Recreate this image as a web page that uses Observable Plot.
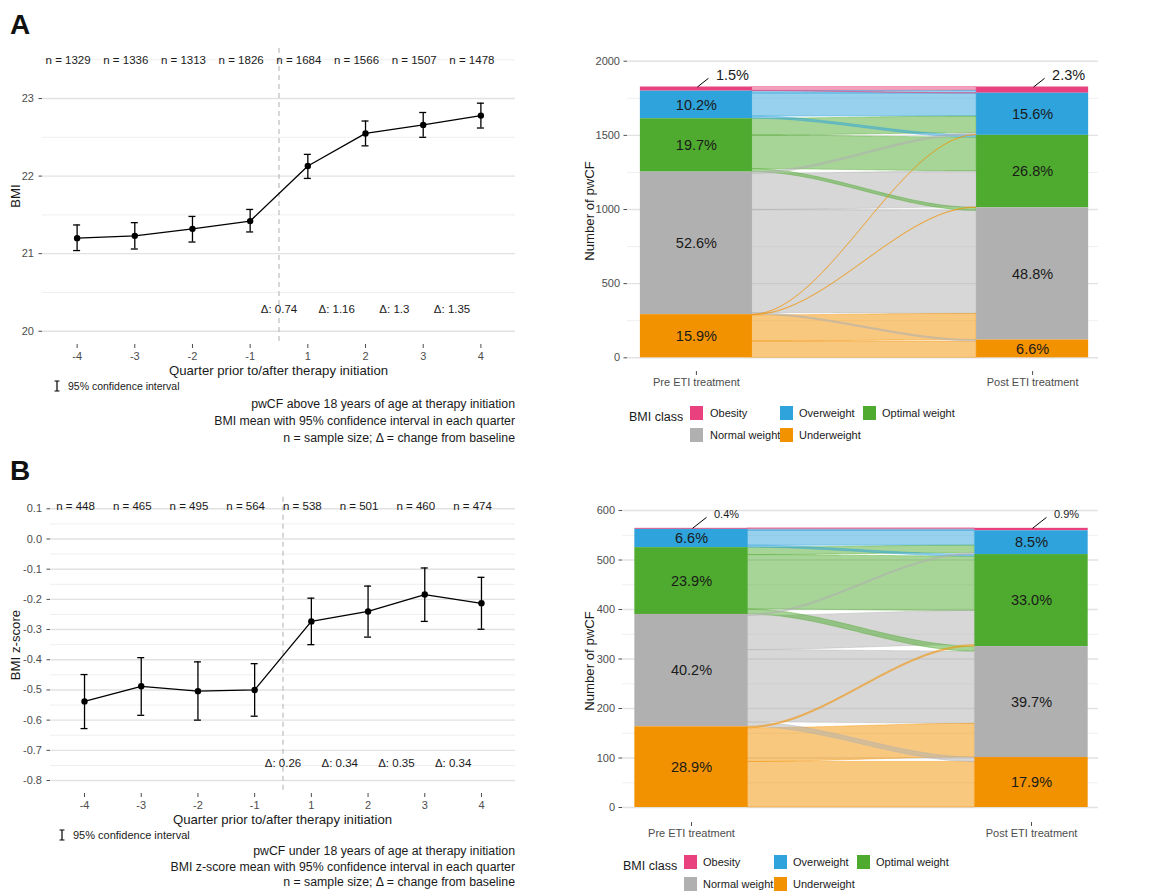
<!DOCTYPE html>
<html><head><meta charset="utf-8">
<script src="https://cdn.jsdelivr.net/npm/d3@7"></script>
<script src="https://cdn.jsdelivr.net/npm/@observablehq/plot@0.6"></script>
<style>
body{margin:0;background:#fff;}
#fig{position:relative;width:1154px;height:891px;overflow:hidden;font-family:"Liberation Sans",Arial,Helvetica,sans-serif;color:#1a1a1a;}
.abs{position:absolute;white-space:nowrap;line-height:1;}
.panel{position:absolute;}
.panel svg{display:block;}
</style></head><body><div id="fig"></div>
<script>
// ---------------- data ----------------
const quarters = [-4, -3, -2, -1, 1, 2, 3, 4];

const adultN    = [1329, 1336, 1313, 1826, 1684, 1566, 1507, 1478];
const adultMean = [21.20, 21.23, 21.32, 21.42, 22.13, 22.55, 22.66, 22.78];
const adultLow  = [21.04, 21.06, 21.15, 21.28, 21.97, 22.39, 22.50, 22.62];
const adultHigh = [21.37, 21.40, 21.48, 21.57, 22.28, 22.71, 22.82, 22.94];
const adultDelta = ["0.74", "1.16", "1.3", "1.35"];

const childN    = [448, 465, 495, 564, 538, 501, 460, 474];
const childMean = [-0.538, -0.488, -0.504, -0.500, -0.273, -0.240, -0.184, -0.213];
const childLow  = [-0.628, -0.584, -0.600, -0.587, -0.350, -0.325, -0.273, -0.299];
const childHigh = [-0.449, -0.393, -0.407, -0.413, -0.196, -0.156, -0.096, -0.127];
const childDelta = ["0.26", "0.34", "0.35", "0.34"];

const bmiTicks  = [20, 21, 22, 23];
const bmiMinor  = [20.5, 21.5, 22.5, 23.5];
const zTicks    = [-0.8, -0.7, -0.6, -0.5, -0.4, -0.3, -0.2, -0.1, 0.0, 0.1];
const zMinor    = [-0.75, -0.65, -0.55, -0.45, -0.35, -0.25, -0.15, -0.05, 0.05];

const classes = ["Obesity", "Overweight", "Optimal weight", "Normal weight", "Underweight"];
const classColors = ["#E8417E", "#2FA3DB", "#4FAB2F", "#B0B0B0", "#F39200"];
const timepoints = ["Pre ETI treatment", "Post ETI treatment"];

// [pre class, post class, number of pwCF]
const adultFlows = [
  ["Obesity", "Obesity", 26], ["Obesity", "Overweight", 2],
  ["Overweight", "Obesity", 16], ["Overweight", "Overweight", 155], ["Overweight", "Optimal weight", 15],
  ["Optimal weight", "Overweight", 113], ["Optimal weight", "Optimal weight", 227], ["Optimal weight", "Normal weight", 20],
  ["Normal weight", "Overweight", 12], ["Normal weight", "Optimal weight", 244], ["Normal weight", "Normal weight", 695], ["Normal weight", "Underweight", 10],
  ["Underweight", "Overweight", 2], ["Underweight", "Optimal weight", 3], ["Underweight", "Normal weight", 176], ["Underweight", "Underweight", 110]
];
const childFlows = [
  ["Obesity", "Obesity", 2],
  ["Overweight", "Obesity", 3], ["Overweight", "Overweight", 30], ["Overweight", "Optimal weight", 4],
  ["Optimal weight", "Overweight", 15], ["Optimal weight", "Optimal weight", 110], ["Optimal weight", "Normal weight", 10],
  ["Normal weight", "Overweight", 3], ["Normal weight", "Optimal weight", 69], ["Normal weight", "Normal weight", 146], ["Normal weight", "Underweight", 9],
  ["Underweight", "Optimal weight", 3], ["Underweight", "Normal weight", 68], ["Underweight", "Underweight", 92]
];
const countTicksA = [0, 500, 1000, 1500, 2000];
const countMinorA = [250, 750, 1250, 1750];
const countTicksB = [0, 100, 200, 300, 400, 500, 600];
const countMinorB = [50, 150, 250, 350, 450, 550];

// ---------------- helpers ----------------
const FONT = '"Liberation Sans", Arial, Helvetica, sans-serif';
const fig = document.getElementById("fig");

function put(node, x, y, w, h) {
  const d = document.createElement("div");
  d.className = "panel";
  d.style.left = x + "px"; d.style.top = y + "px";
  d.style.width = w + "px"; d.style.height = h + "px";
  d.appendChild(node);
  fig.appendChild(d);
}
function label(txt, x, y, o = {}) {
  const el = document.createElement("div");
  el.className = "abs";
  el.textContent = txt;
  el.style.left = x + "px"; el.style.top = y + "px";
  el.style.fontSize = (o.size || 12) + "px";
  el.style.color = o.color || "#1a1a1a";
  if (o.weight) el.style.fontWeight = o.weight;
  const tx = o.anchor === "middle" ? "-50%" : o.anchor === "end" ? "-100%" : "0";
  el.style.transform = `translate(${tx},-50%)` + (o.rotate ? ` rotate(${o.rotate}deg)` : "");
  fig.appendChild(el);
  return el;
}
function ciIcon(x, y, h) {
  const ns = "http://www.w3.org/2000/svg";
  const s = document.createElementNS(ns, "svg");
  s.setAttribute("width", 8); s.setAttribute("height", h + 2);
  s.style.position = "absolute"; s.style.left = (x - 4) + "px"; s.style.top = (y - h / 2 - 1) + "px";
  s.innerHTML = `<path d="M1.5,1H6.5M4,1V${h + 1}M1.5,${h + 1}H6.5" stroke="#000" stroke-width="1.2" fill="none"/>`;
  fig.appendChild(s);
}

// ---------------- line charts ----------------
function lineChart(o) {
  const rows = quarters.map((q, i) => ({pos: i + 1, q, n: o.n[i], mean: o.mean[i], low: o.low[i], high: o.high[i]}));
  const post = rows.filter(r => r.q > 0);
  const deltaRows = post.map((r, i) => ({pos: r.pos - 0.5, label: "Δ: " + o.delta[i]}));
  const breakPos = (rows.find(r => r.q === -1).pos + rows.find(r => r.q === 1).pos) / 2;
  const xDom = [0.4, 8.6];
  const pxPerUnit = (o.width - o.mL - o.mR) / (xDom[1] - xDom[0]);
  const cap = 3.5 / pxPerUnit;
  return Plot.plot({
    width: o.width, height: o.height,
    marginLeft: o.mL, marginRight: o.mR, marginTop: o.mT, marginBottom: o.mB,
    style: {fontFamily: FONT, fontSize: "11px", color: "#4d4d4d", background: "transparent"},
    x: {domain: xDom, ticks: rows.map(r => r.pos), tickFormat: p => String(quarters[p - 1]), tickSize: 4, tickPadding: 3.5, label: null},
    y: {domain: o.yDomain, ticks: o.yTicks, tickFormat: o.fmt, tickSize: 3.5, tickPadding: 5, label: null},
    marks: [
      Plot.ruleY(o.yMinor, {stroke: "#efefef", strokeWidth: 1}),
      Plot.ruleY(o.yTicks, {stroke: "#e2e2e2", strokeWidth: 1.4}),
      Plot.ruleX([breakPos], {stroke: "#bcbcbc", strokeDasharray: "5,4", strokeWidth: 1.2}),
      Plot.ruleX(rows, {x: "pos", y1: "low", y2: "high", stroke: "#000", strokeWidth: 1.3}),
      Plot.ruleY(rows, {y: "low", x1: d => d.pos - cap, x2: d => d.pos + cap, stroke: "#000", strokeWidth: 1.3}),
      Plot.ruleY(rows, {y: "high", x1: d => d.pos - cap, x2: d => d.pos + cap, stroke: "#000", strokeWidth: 1.3}),
      Plot.line(rows, {x: "pos", y: "mean", stroke: "#000", strokeWidth: 1.3}),
      Plot.dot(rows, {x: "pos", y: "mean", r: 3.2, fill: "#000"}),
      Plot.text(rows, {x: "pos", frameAnchor: "top", dx: -9, dy: o.nDy, text: d => "n = " + d.n, fill: "#1a1a1a", fontSize: o.textSize}),
      Plot.text(deltaRows, {x: "pos", frameAnchor: "bottom", dy: o.dDy, text: "label", fill: "#1a1a1a", fontSize: o.textSize})
    ]
  });
}

// ---------------- sankey (alluvial) ----------------
function sankey(o) {
  const idx = c => classes.indexOf(c);
  const fl = o.flows.filter(f => f[2] > 0).map(([from, to, n]) => ({from, to, n}));
  const N = d3.sum(fl, f => f.n);
  const preCount = classes.map(c => d3.sum(fl.filter(f => f.from === c), f => f.n));
  const postCount = classes.map(c => d3.sum(fl.filter(f => f.to === c), f => f.n));
  function strata(counts, pos) {
    let base = 0; const out = [];
    for (let i = classes.length - 1; i >= 0; i--) {
      out[i] = {cls: classes[i], pos, y1: base, y2: base + counts[i], count: counts[i], pct: (counts[i] / N * 100).toFixed(1) + "%"};
      base += counts[i];
    }
    return out;
  }
  const strat = strata(preCount, 1).concat(strata(postCount, 2));
  const leftCur = strata(preCount, 1).map(s => s.y2);
  const rightCur = strata(postCount, 2).map(s => s.y2);
  fl.slice().sort((a, b) => idx(a.from) - idx(b.from) || idx(a.to) - idx(b.to)).forEach(f => {
    const i = idx(f.from); f.l2 = leftCur[i]; f.l1 = leftCur[i] - f.n; leftCur[i] = f.l1;
  });
  fl.slice().sort((a, b) => idx(a.to) - idx(b.to) || idx(a.from) - idx(b.from)).forEach(f => {
    const j = idx(f.to); f.r2 = rightCur[j]; f.r1 = rightCur[j] - f.n; rightCur[j] = f.r1;
  });
  const half = 1 / 6, xL = 1 + half, xR = 2 - half, steps = 48;
  const pts = [];
  fl.sort((a, b) => b.n - a.n).forEach((f, k) => {
    for (let s = 0; s <= steps; s++) {
      const t = s / steps, e = t * t * (3 - 2 * t);
      pts.push({id: k, cls: f.from, x: xL + (xR - xL) * t, lo: f.l1 + (f.r1 - f.l1) * e, hi: f.l2 + (f.r2 - f.l2) * e});
    }
  });
  const big = strat.filter(s => s.count / N >= 0.03);
  const small = strat.filter(s => s.count > 0 && s.count / N < 0.03);
  const xPx = (o.width - o.mL - o.mR) / (o.xDom[1] - o.xDom[0]);
  const yPx = (o.height - o.mT - o.mB) / (o.yDom[1] - o.yDom[0]);
  return Plot.plot({
    width: o.width, height: o.height,
    marginLeft: o.mL, marginRight: o.mR, marginTop: o.mT, marginBottom: o.mB,
    style: {fontFamily: FONT, fontSize: "11px", color: "#4d4d4d", background: "transparent"},
    x: {domain: o.xDom, ticks: [1, 2], tickFormat: p => timepoints[p - 1], tickSize: 4, tickPadding: 3, label: null},
    y: {domain: o.yDom, ticks: o.yTicks, tickFormat: d => String(d), tickSize: 3.5, tickPadding: 4, label: null},
    color: {domain: classes, range: classColors},
    marks: [
      Plot.ruleY(o.yMinor, {stroke: "#efefef", strokeWidth: 1}),
      Plot.ruleY(o.yTicks, {stroke: "#e2e2e2", strokeWidth: 1.4}),
      Plot.area(pts, {x1: "x", y1: "lo", y2: "hi", z: "id", fill: "cls", fillOpacity: 0.5, stroke: "cls", strokeOpacity: 0.45, strokeWidth: 0.9}),
      Plot.rect(strat, {x1: d => d.pos - half, x2: d => d.pos + half, y1: "y1", y2: "y2", fill: "cls"}),
      Plot.text(big, {x: "pos", y: d => (d.y1 + d.y2) / 2, text: "pct", fill: "#1a1a1a", fontSize: 14.5}),
      Plot.link(small, {x1: d => d.pos + o.seg0[0] / xPx, y1: d => d.y2 - o.seg0[1] / yPx, x2: d => d.pos + o.seg[0] / xPx, y2: d => d.y2 + o.seg[1] / yPx, stroke: "#000", strokeWidth: 1}),
      Plot.text(small, {x: "pos", y: "y2", dx: o.lab[0], dy: o.lab[1], text: "pct", fill: "#1a1a1a", fontSize: o.smallSize})
    ]
  });
}

// ---------------- build ----------------
put(lineChart({n: adultN, mean: adultMean, low: adultLow, high: adultHigh, delta: adultDelta,
  width: 580, height: 450, mL: 42, mR: 65, mT: 48, mB: 106,
  yDomain: [19.829, 23.645], yTicks: bmiTicks, yMinor: bmiMinor, fmt: d => String(d),
  nDy: 7, dDy: -31.5, textSize: 11.5}), 0, 0, 580, 450);

put(lineChart({n: childN, mean: childMean, low: childLow, high: childHigh, delta: childDelta,
  width: 580, height: 441, mL: 50, mR: 65, mT: 46.7, mB: 98,
  yDomain: [-0.843, 0.1384], yTicks: zTicks, yMinor: zMinor, fmt: d => d.toFixed(1),
  nDy: 5, dDy: -27, textSize: 11.5}), 0, 450, 580, 441);

put(sankey({flows: adultFlows, width: 574, height: 450, mL: 47, mR: 56, mT: 52, mB: 79,
  xDom: [0.795, 2.196], yDom: [-92.4, 2058.7], yTicks: countTicksA, yMinor: countMinorA,
  seg0: [1, 0], seg: [12, 8.7], lab: [36, -11.5], smallSize: 14.5}), 580, 0, 574, 450);

put(sankey({flows: childFlows, width: 574, height: 441, mL: 42, mR: 56, mT: 52, mB: 69,
  xDom: [0.797, 2.197], yDom: [-30.3, 616.2], yTicks: countTicksB, yMinor: countMinorB,
  seg0: [1, 0], seg: [15, 11], lab: [35, -14], smallSize: 11}), 580, 450, 574, 441);

// panel letters
label("A", 10, 25, {size: 28, weight: "bold", color: "#111"});
label("B", 10, 471, {size: 28, weight: "bold", color: "#111"});

// axis titles
label("BMI", 16, 196, {size: 13.2, anchor: "middle", rotate: -90});
label("BMI z-score", 16, 645, {size: 13.2, anchor: "middle", rotate: -90});
label("Quarter prior to/after therapy initiation", 278.5, 371, {size: 13.2, anchor: "middle"});
label("Quarter prior to/after therapy initiation", 282.5, 820, {size: 13.2, anchor: "middle"});
label("Number of pwCF", 590, 211, {size: 13.2, anchor: "middle", rotate: -90});
label("Number of pwCF", 590, 661, {size: 13.2, anchor: "middle", rotate: -90});

// confidence interval keys
ciIcon(57, 386, 10); label("95% confidence interval", 68, 386, {size: 10.5});
ciIcon(62, 835, 10); label("95% confidence interval", 73, 835, {size: 11});

// captions
const capA = ["pwCF above 18 years of age at therapy initiation", "BMI mean with 95% confidence interval in each quarter", "n = sample size; Δ = change from baseline"];
const capB = ["pwCF under 18 years of age at therapy initiation", "BMI z-score mean with 95% confidence interval in each quarter", "n = sample size; Δ = change from baseline"];
capA.forEach((t, i) => label(t, 515, 404 + i * 17, {size: 12.3, anchor: "end"}));
capB.forEach((t, i) => label(t, 515, 851 + i * 15.5, {size: 12.3, anchor: "end"}));

// legends
function legend(x0, y0, sw, lx) {
  label("BMI class", x0, y0 + 11, {size: 12.5});
  const cols = [[0, 0], [1, 0], [2, 0], [0, 1], [1, 1]];
  classes.forEach((c, i) => {
    const [cx, cy] = cols[i];
    const s = document.createElement("div");
    s.style.position = "absolute";
    s.style.left = sw[cx] + "px"; s.style.top = (y0 + cy * 21.5) + "px";
    s.style.width = "13px"; s.style.height = "14px";
    s.style.background = classColors[i];
    fig.appendChild(s);
    label(c, lx[cx], y0 + 7 + cy * 21.5, {size: 11});
  });
}
legend(629, 406, [690, 780, 863], [710, 799, 882]);
legend(623, 855, [684, 774, 857], [703, 793, 876]);
</script></body></html>
